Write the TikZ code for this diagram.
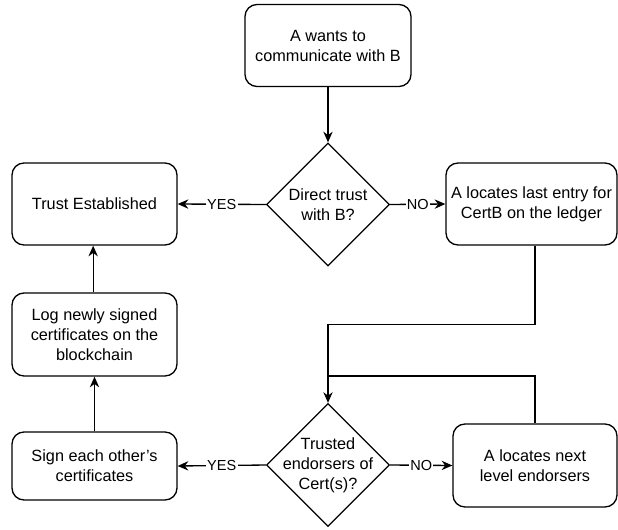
\documentclass[tikz,border=0pt]{standalone}
\usepackage{fontspec}
\setmainfont{Liberation Sans}
\usetikzlibrary{shapes.geometric,arrows.meta}
\begin{document}
\begin{tikzpicture}[x=0.75pt,y=-0.75pt,
  box/.style={draw,line width=1pt,rounded corners=9pt,align=center,inner sep=0pt,
    font=\fontsize{12.2}{15}\selectfont},
  dia/.style={draw,line width=1pt,diamond,inner sep=0pt,minimum width=92.25pt,minimum height=92.25pt},
  dtext/.style={align=center,inner sep=0pt,font=\fontsize{12.2}{15}\selectfont},
  arr/.style={line width=1pt,-{Stealth[length=8pt,width=7pt,inset=2.6pt]}},
  ln/.style={line width=1pt},
  lab/.style={fill=white,inner sep=1pt,font=\fontsize{10.9}{13}\selectfont}]
\useasboundingbox (0,0) rectangle (618,529);
\node[box,minimum width=124.5pt,minimum height=61.5pt] (top) at (328,45.5) {A wants to\\communicate with B};
\node[box,minimum width=123.75pt,minimum height=61.5pt] (trust) at (94.5,204) {Trust Established};
\node[box,minimum width=128.25pt,minimum height=61.5pt] (r1) at (531.5,204) {A locates last entry for\\CertB on the ledger};
\node[box,minimum width=123.75pt,minimum height=62.25pt] (log) at (94.5,334.5) {Log newly signed\\certificates on the\\blockchain};
\node[box,minimum width=123.75pt,minimum height=51pt] (sign) at (94.5,466) {Sign each other{\char"27}s\\certificates};
\node[box,minimum width=123pt,minimum height=62.25pt] (nx) at (535,465.5) {A locates next\\level endorsers};
\node[dia] (d1) at (328,204.5) {};
\node[dtext] (d1t) at (328,204.5) {Direct trust\\with B?};
\node[dia] (d2) at (328,465) {};
\node[dtext] (d2t) at (328,465.5) {Trusted\\endorsers of\\Cert(s)?};
\coordinate (j2) at (328,376);
\draw[arr] (top.south) -- (d1.north);
\draw[arr] (d1.west) -- node[lab] (l1) {YES} (trust.east);
\draw[arr] (d1.east) -- node[lab] (l2) {NO} (r1.west);
\draw[arr] ([xshift=2.6pt]r1.south) -- ++(0,79) -| (d2.north);
\draw[ln] (nx.north) |- (j2);
\draw[arr] (d2.west) -- node[lab] (l3) {YES} (sign.east);
\draw[arr] (d2.east) -- node[lab] (l4) {NO} (nx.west);
\draw[arr] (sign.north) -- (log.south);
\draw[arr] ([xshift=-1pt]log.north) -- ([xshift=-1pt]trust.south);
\end{tikzpicture}
\end{document}
